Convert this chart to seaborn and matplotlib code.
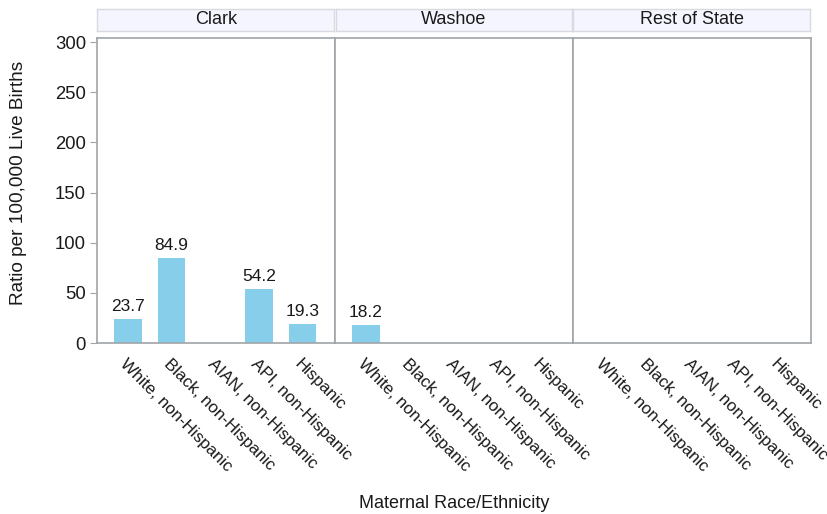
import numpy as np
import pandas as pd
import matplotlib
matplotlib.use("Agg")
import matplotlib.pyplot as plt
import seaborn as sns

categories = ["White, non-Hispanic", "Black, non-Hispanic", "AIAN, non-Hispanic",
              "API, non-Hispanic", "Hispanic"]
regions = ["Clark", "Washoe", "Rest of State"]
clark = [23.7, 84.9, np.nan, 54.2, 19.3]
washoe = [18.2, np.nan, np.nan, np.nan, np.nan]
rest = [np.nan, np.nan, np.nan, np.nan, np.nan]
yticks = [0, 50, 100, 150, 200, 250, 300]

values = {"Clark": clark, "Washoe": washoe, "Rest of State": rest}
rows = []
for r in regions:
    for c, v in zip(categories, values[r]):
        rows.append({"region": r, "race": c, "ratio": v})
df = pd.DataFrame(rows)

sns.set_style("white")
plt.rcParams['font.family'] = ['Liberation Sans', 'DejaVu Sans']

W, H = 828, 514
fig = plt.figure(figsize=(W / 100, H / 100), dpi=100)

bar_color = "#87CEEB"
spine_color = "#A0A4A8"
txt = "#1a1a1a"

left0 = 97
pw = 238
top = 38
bottom = 343
for i, r in enumerate(regions):
    x0 = left0 + i * pw
    ax = fig.add_axes([x0 / W, (H - bottom) / H, pw / W, (bottom - top) / H])
    sub = df[df.region == r].copy()
    sub["plot"] = sub["ratio"].fillna(0)
    sns.barplot(data=sub, x="race", y="plot", order=categories, color=bar_color,
                width=0.63, linewidth=0, saturation=1, ax=ax, errorbar=None)
    for j, v in enumerate(sub["ratio"].values):
        if not np.isnan(v):
            ax.text(j, v + 5, f"{v:.1f}", ha="center", va="bottom", fontsize=12.5, color=txt)
    ax.set_xlim(-0.71, 4.74)
    ax.set_ylim(0, 304)
    ax.set_xlabel("")
    ax.set_ylabel("")
    ax.set_yticks(yticks)
    ax.set_xticks(range(len(categories)))
    ax.set_xticklabels(categories, rotation=-45, ha="left", va="top",
                       rotation_mode="anchor", fontsize=12.2, color=txt)
    ax.tick_params(axis="x", length=0, pad=10)
    for s in ax.spines.values():
        s.set_color(spine_color)
        s.set_linewidth(1.2)
    if i == 0:
        ax.tick_params(axis="y", length=5, color=spine_color, labelsize=13.3,
                       labelcolor=txt, left=True, pad=3)
        ax.set_ylabel("Ratio per 100,000 Live Births", fontsize=13.7, color=txt)
        ax.yaxis.set_label_coords((27 - 97) / pw, (bottom - 183) / (bottom - top))
    else:
        ax.set_yticklabels([])
        ax.tick_params(axis="y", length=0)
    # strip header
    sax = fig.add_axes([(x0 + 0.5) / W, (H - 31) / H, (pw - 1.5) / W, 22 / H])
    sax.set_facecolor("#F5F5FF")
    sax.set_xticks([])
    sax.set_yticks([])
    for s in sax.spines.values():
        s.set_color("#D8DAE0")
        s.set_linewidth(1.0)
    sax.text(0.5, 0.5, r, ha="center", va="center", fontsize=13, color=txt,
             transform=sax.transAxes)

fig.text((left0 + 1.5 * pw) / W, 1 - 503 / H, "Maternal Race/Ethnicity", ha="center",
         va="center", fontsize=13, color=txt)

fig.savefig("out.png", dpi=100)
